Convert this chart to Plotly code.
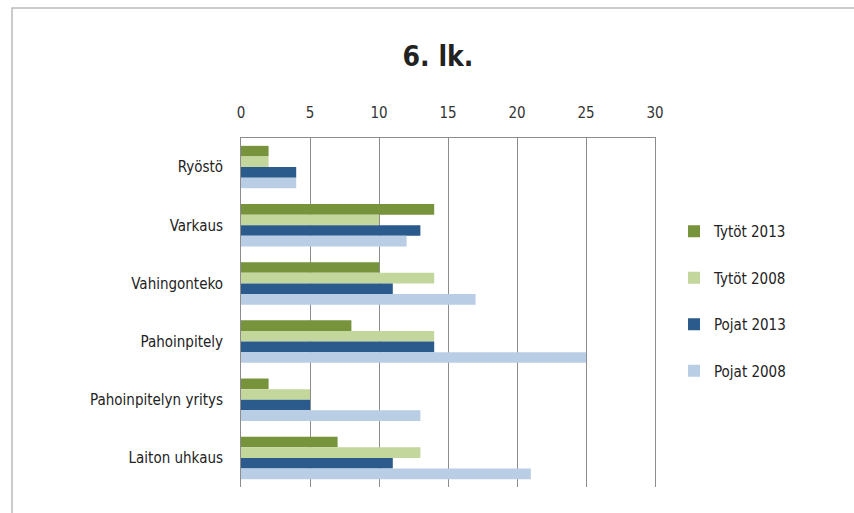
import plotly.graph_objects as go

categories = ["Ryöstö", "Varkaus", "Vahingonteko", "Pahoinpitely", "Pahoinpitelyn yritys", "Laiton uhkaus"]
series_names = ["Tytöt 2013", "Tytöt 2008", "Pojat 2013", "Pojat 2008"]
tytot_2013 = [2, 14, 10, 8, 2, 7]
tytot_2008 = [2, 10, 14, 14, 5, 13]
pojat_2013 = [4, 13, 11, 14, 5, 11]
pojat_2008 = [4, 12, 17, 25, 13, 21]
colors = ["#77933C", "#C3D69B", "#2B5B8C", "#B9CDE5"]
x_ticks = [0, 5, 10, 15, 20, 25, 30]

FONT = "Liberation Sans Narrow, DejaVu Sans Condensed, Arial Narrow, sans-serif"

fig = go.Figure()
for name, vals, col in zip(series_names, [tytot_2013, tytot_2008, pojat_2013, pojat_2008], colors):
    fig.add_trace(go.Bar(y=categories, x=vals, name=name, orientation="h",
                         marker=dict(color=col, line=dict(width=0)),
                         legendgroup=name))

W, H = 854, 513
L, R, T, B = 241, 655, 138, 487
fig.update_layout(
    width=W, height=H,
    margin=dict(l=L, r=W - R, t=T, b=H - B),
    paper_bgcolor="white", plot_bgcolor="white",
    barmode="group", bargap=0.27, bargroupgap=0,
    title=dict(text="<b>6. lk.</b>", x=(438) / W, xanchor="center", y=1 - 56 / H, yanchor="middle",
               font=dict(family=FONT, size=28, color="#222222")),
    xaxis=dict(side="top", range=[0, 30], tickvals=x_ticks, showgrid=True, gridcolor="#8C8C8C",
               gridwidth=1, zeroline=False, showline=True, linecolor="#8C8C8C", linewidth=1,
               mirror=False, ticks="", ticklabelstandoff=13,
               tickfont=dict(family=FONT, size=15, color="#333333"),
               fixedrange=True),
    yaxis=dict(autorange="reversed", showline=True, linecolor="#8C8C8C", linewidth=1, mirror=True,
               ticks="", ticklabelstandoff=14, tickfont=dict(family=FONT, size=15, color="#222222"),
               showgrid=False),
    legend=dict(x=(674 - L) / (R - L), xanchor="left", y=1 - (215 - T) / (B - T), yanchor="top",
                font=dict(family=FONT, size=15, color="#222222"),
                tracegroupgap=24, itemwidth=30, bgcolor="rgba(0,0,0,0)"),
    showlegend=True,
)
# outer chart frame (only left and top edges visible)
fig.add_shape(type="rect", xref="paper", yref="paper",
              x0=(12 - L) / (R - L), x1=(870 - L) / (R - L),
              y0=1 - (530 - T) / (B - T), y1=1 + (T - 8) / (B - T),
              line=dict(color="#BBBBBB", width=1.5), layer="below")
fig.write_html("out.html", config={"displayModeBar": False},
               post_script="document.body.style.margin='0';document.body.style.overflow='hidden';")
